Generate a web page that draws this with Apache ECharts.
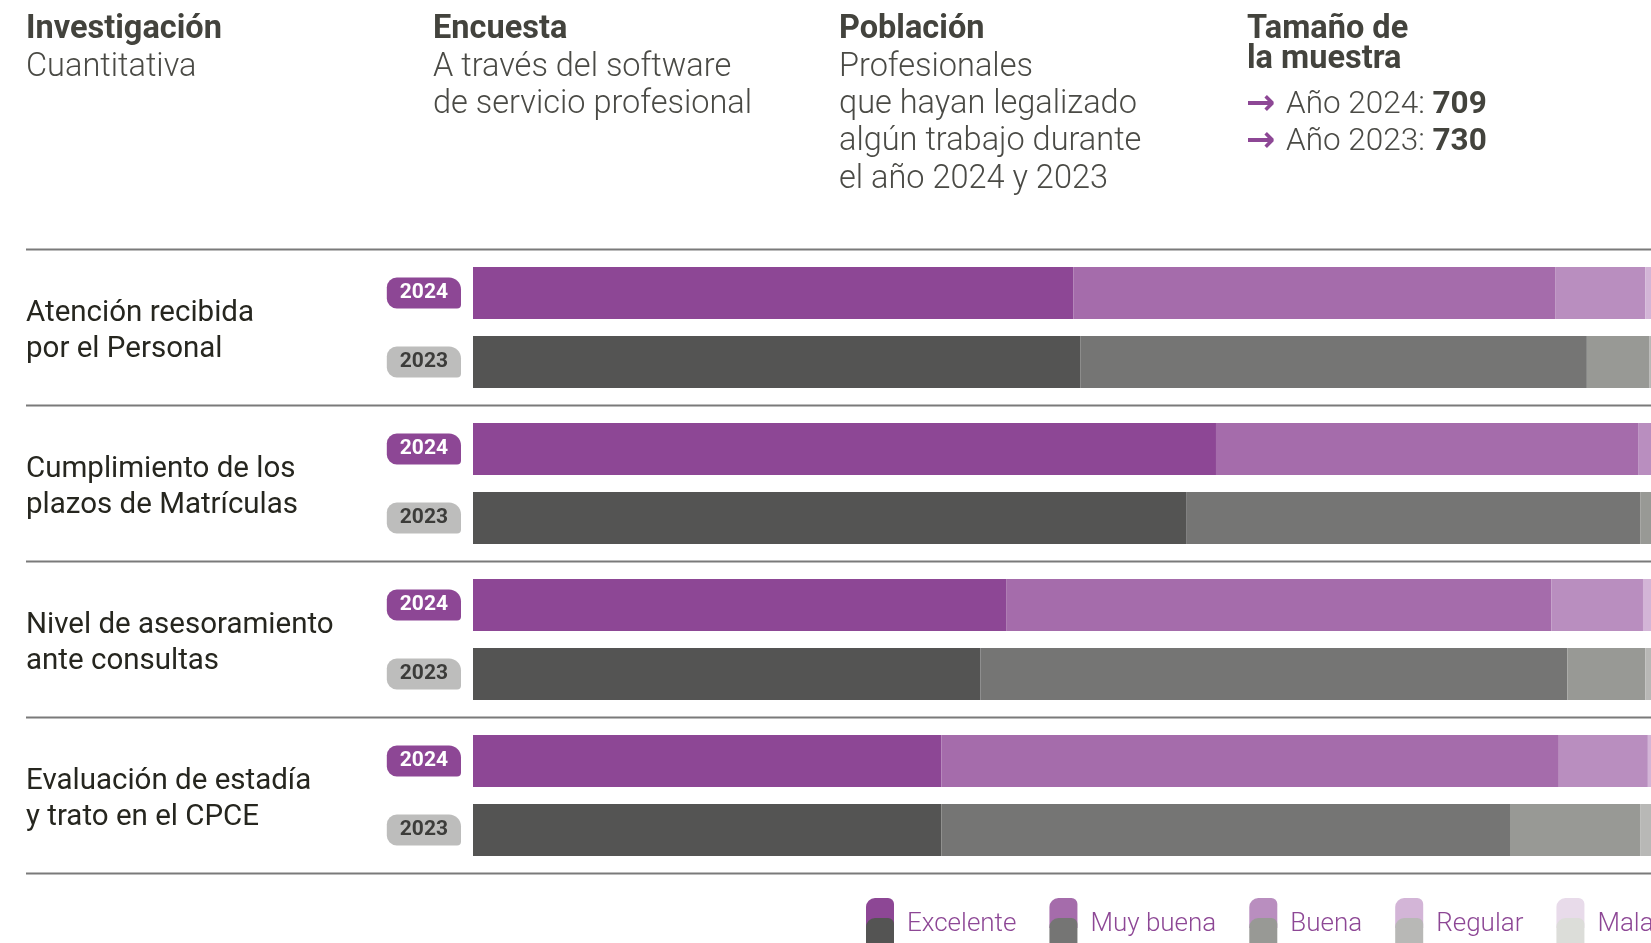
<!DOCTYPE html>
<html>
<head>
<meta charset="utf-8">
<title>Satisfacción con los servicios 2024 vs 2023</title>
<script src="https://cdn.jsdelivr.net/npm/echarts@6/dist/echarts.min.js"></script>
<style>
  html, body { margin: 0; padding: 0; background: #ffffff; }
  #chart { width: 1651px; height: 943px; }
</style>
</head>
<body>
<div id="chart"></div>
<script>
// Survey aspects (one block per aspect, each with a 2024 and a 2023 bar)
const categories = [
  'Atención recibida\npor el Personal',
  'Cumplimiento de los\nplazos de Matrículas',
  'Nivel de asesoramiento\nante consultas',
  'Evaluación de estadía\ny trato en el CPCE'
];
const years = ['2024', '2023'];
const ratings = ['Excelente', 'Muy buena', 'Buena', 'Regular', 'Mala'];

// Share of answers (%) per aspect, in the order of `ratings`
const values2024 = [
  [49.2, 39.5, 7.4, 2.6, 1.3],
  [60.9, 34.6, 3.2, 1.0, 0.3],
  [43.7, 44.7, 7.5, 3.0, 1.1],
  [38.4, 50.6, 7.3, 2.6, 1.1]
];
const values2023 = [
  [49.8, 41.5, 5.1, 2.4, 1.2],
  [58.5, 37.2, 3.0, 1.0, 0.3],
  [41.6, 48.1, 6.4, 2.8, 1.1],
  [38.4, 46.6, 10.7, 3.0, 1.3]
];

// Sample sizes
const sampleYears = ['2024', '2023'];
const sampleSizes = [709, 730];

// Header blocks: title + description lines
const headerTitles = ['Investigación', 'Encuesta', 'Población'];
const headerLines = [
  ['Cuantitativa'],
  ['A través del software', 'de servicio profesional'],
  ['Profesionales', 'que hayan legalizado', 'algún trabajo durante', 'el año 2024 y 2023']
];
const sampleTitle = ['Tamaño de', 'la muestra'];

// Palettes: 2024 in purples, 2023 in greys
const purple = ['#8d4795', '#a56cab', '#b98ebf', '#d3b5d7', '#e8dbea'];
const grey = ['#545453', '#757574', '#989995', '#b8b8b6', '#dcddd9'];

const FONT = 'Roboto, "Noto Sans", sans-serif';
const TEXT_DARK = '#43433d';
const TEXT_LIGHT = '#4a4a45';

// Layout: one percentage point spans 12.2 px; the bars run past the right edge
const plotLeft = 473;
const pxPerPoint = 12.2;
const plotWidth = 1651 - plotLeft;
const visibleMax = plotWidth / pxPerPoint;
const rowPitch = 156;
const firstGridTop = 258.5;
const gridHeight = 138;
const ruleTop = 249.5;

const badge = (bg, fg) => ({
  backgroundColor: bg, color: fg, fontFamily: FONT, fontWeight: 'bold', fontSize: 21,
  lineHeight: 21, padding: [5, 13, 5, 13], borderRadius: [10, 12, 4, 10]
});

const grids = [], xAxes = [], yAxes = [], series = [];
categories.forEach((cat, r) => {
  grids.push({ left: plotLeft, top: firstGridTop + r * rowPitch, right: 0, height: gridHeight });
  xAxes.push({ gridIndex: r, type: 'value', min: 0, max: visibleMax, show: false });
  yAxes.push({
    gridIndex: r, type: 'category', data: years, inverse: true,
    axisLine: { show: false }, axisTick: { show: false }, splitLine: { show: false },
    axisLabel: {
      margin: 12,
      formatter: v => v === '2024' ? '{p|' + v + '}' : '{g|' + v + '}',
      rich: { p: badge(purple[0], '#ffffff'), g: badge('#bdbdbc', '#3c3c3a') }
    }
  });
  ratings.forEach((name, k) => {
    series.push({
      type: 'bar', name: name, xAxisIndex: r, yAxisIndex: r, stack: 'row' + r,
      barWidth: 52, silent: true, clip: true,
      data: [
        { value: values2024[r][k], itemStyle: { color: purple[k] } },
        { value: values2023[r][k], itemStyle: { color: grey[k] } }
      ]
    });
  });
});

// Static graphics: header, row rules, row names, legend
const graphic = [];
const headerX = [26, 433, 839];
headerTitles.forEach((t, i) => {
  graphic.push({ type: 'text', x: headerX[i], y: 30, silent: true,
    style: { text: t, fill: TEXT_DARK, fontFamily: FONT, fontWeight: 'bold', fontSize: 32.5, verticalAlign: 'middle' } });
  headerLines[i].forEach((line, j) => {
    graphic.push({ type: 'text', x: headerX[i], y: 67.5 + j * 37.4, silent: true,
      style: { text: line, fill: TEXT_LIGHT, fontFamily: FONT, fontWeight: 300, fontSize: 32.5, verticalAlign: 'middle' } });
  });
});
sampleTitle.forEach((t, j) => {
  graphic.push({ type: 'text', x: 1247, y: 30 + j * 29.5, silent: true,
    style: { text: t, fill: TEXT_DARK, fontFamily: FONT, fontWeight: 'bold', fontSize: 32.5, verticalAlign: 'middle' } });
});
sampleYears.forEach((yr, j) => {
  graphic.push({ type: 'text', x: 1246, y: 105 + j * 37, silent: true,
    style: {
      text: '{a|→} Año ' + yr + ': {b|' + sampleSizes[j] + '}',
      fill: TEXT_LIGHT, fontFamily: FONT, fontWeight: 300, fontSize: 31.5, verticalAlign: 'middle',
      rich: {
        a: { fill: purple[0], fontFamily: '"DejaVu Sans", sans-serif', fontWeight: 'bold', fontSize: 35, padding: [0, 3, 0, 0] },
        b: { fill: TEXT_DARK, fontFamily: FONT, fontWeight: 'bold', fontSize: 31.5 }
      }
    } });
});

for (let i = 0; i <= categories.length; i++) {
  graphic.push({ type: 'line', silent: true,
    shape: { x1: 26, y1: ruleTop + i * rowPitch, x2: 1651, y2: ruleTop + i * rowPitch },
    style: { stroke: '#7a7a7a', lineWidth: 2 } });
}
categories.forEach((cat, r) => {
  graphic.push({ type: 'text', x: 26, y: ruleTop + rowPitch / 2 + r * rowPitch + 4, silent: true,
    style: { text: cat, fill: '#26261f', fontFamily: FONT, fontWeight: 400, fontSize: 29.5, lineHeight: 36, verticalAlign: 'middle' } });
});

// Two-tone legend: purple swatch (2024) overlapped by grey swatch (2023)
const measure = document.createElement('canvas').getContext('2d');
measure.font = '300 26px Roboto';
let lx = 866;
ratings.forEach((name, k) => {
  graphic.push({ type: 'rect', silent: true, shape: { x: lx, y: 898, width: 28, height: 30, r: [9, 6, 0, 0] },
    style: { fill: purple[k] } });
  graphic.push({ type: 'rect', silent: true, shape: { x: lx, y: 918, width: 28, height: 30, r: [9, 6, 0, 0] },
    style: { fill: grey[k] } });
  graphic.push({ type: 'text', x: lx + 41, y: 924, silent: true,
    style: { text: name, fill: purple[0], fontFamily: FONT, fontWeight: 300, fontSize: 26, verticalAlign: 'middle' } });
  lx += 41 + measure.measureText(name).width + 33;
});

const chart = echarts.init(document.getElementById('chart'), null, { renderer: 'canvas' });
chart.setOption({
  animation: false,
  backgroundColor: '#ffffff',
  grid: grids,
  xAxis: xAxes,
  yAxis: yAxes,
  series: series,
  graphic: graphic
});
</script>
</body>
</html>
